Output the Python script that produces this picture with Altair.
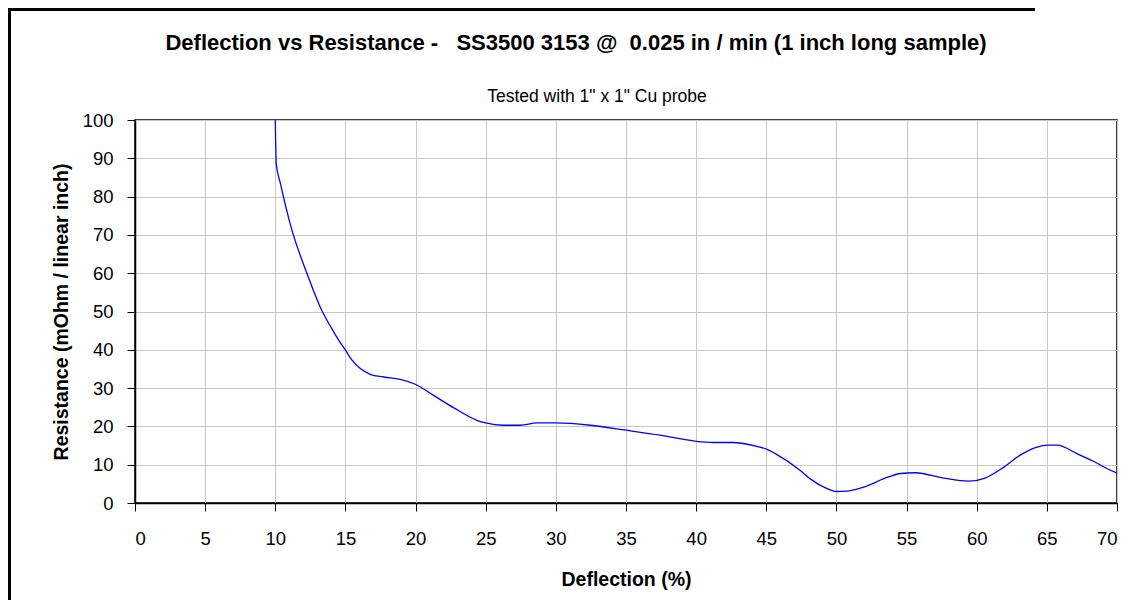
import altair as alt
import pandas as pd

# Deflection (%) and Resistance (mOhm / linear inch)
deflection = [9.98, 10.07, 10.36, 11.12, 12.26, 13.2, 14.16, 14.68, 15.0, 15.47,
              16.06, 16.77, 17.72, 18.9, 19.98, 21.28, 22.7, 24.37, 25.0, 26.2,
              27.46, 28.65, 29.98, 32.45, 35.0, 37.44, 40.0, 41.24, 42.55, 44.33,
              45.05, 45.64, 47.42, 48.13, 49.3, 50.0, 50.75, 51.82, 53.71, 54.55,
              55.62, 57.63, 59.42, 60.6, 61.91, 63.1, 64.29, 65.05, 65.72, 67.14,
              68.33, 69.28, 70.0]
resistance = [105, 88.5, 83.5, 72.1, 59.9, 51.2, 44.7, 41.6, 39.9, 37.3,
              35.1, 33.6, 32.9, 32.3, 31.0, 28.1, 24.9, 21.6, 20.9, 20.3,
              20.3, 20.9, 20.9, 20.3, 19.0, 17.7, 16.1, 15.8, 15.8, 14.8,
              14.0, 12.9, 8.5, 6.3, 3.8, 3.0, 3.1, 4.0, 6.8, 7.7,
              7.9, 6.5, 5.7, 6.5, 9.3, 12.5, 14.6, 15.1, 15.1, 12.9,
              10.9, 9.0, 7.8]
x_ticks = list(range(0, 71, 5))
y_ticks = list(range(0, 101, 10))

NB = "\u00a0"
title_text = ("Deflection vs Resistance -" + NB * 3 + "SS3500 3153 @" + NB * 2 +
              "0.025 in / min (1 inch long sample)")
subtitle_text = 'Tested with 1" x 1" Cu probe'
x_title = "Deflection (%)"
y_title = "Resistance (mOhm / linear inch)"

FONT = "Liberation Sans, Arial, sans-serif"

df = pd.DataFrame({"x": deflection, "y": resistance})

line = alt.Chart(df).mark_line(
    color="#0000ff", strokeWidth=1.3, interpolate="monotone", clip=True
).encode(
    x=alt.X("x:Q",
            scale=alt.Scale(domain=[0, 70], nice=False, zero=False),
            axis=alt.Axis(values=x_ticks, title=x_title, format="d",
                          labelFontSize=18.5, labelFont=FONT, labelColor="black",
                          labelPadding=18, tickSize=8, tickColor="black",
                          domainColor="black", domainWidth=1.5,
                          gridColor="#c6c6c6", gridWidth=1,
                          titleFont=FONT, titleFontSize=19.5, titleFontWeight="bold",
                          titleColor="black", titleX=491, titleY=76,
                          titleBaseline="middle", titleAlign="center")),
    y=alt.Y("y:Q",
            scale=alt.Scale(domain=[0, 100], nice=False),
            axis=alt.Axis(values=y_ticks, title=y_title, format="d",
                          labelFontSize=18.5, labelFont=FONT, labelColor="black",
                          labelPadding=14, tickSize=8, tickColor="black",
                          domainColor="black", domainWidth=1.5,
                          gridColor="#c6c6c6", gridWidth=1,
                          titleFont=FONT, titleFontSize=19.5, titleFontWeight="bold",
                          titleColor="black", titleX=-74, titleY=191.5,
                          titleAngle=270, titleBaseline="middle", titleAlign="center")),
)

title = alt.Chart(pd.DataFrame({"t": [title_text]})).mark_text(
    font=FONT, fontSize=22, fontWeight="bold", color="black",
    align="center", baseline="middle"
).encode(text="t:N", x=alt.value(441), y=alt.value(-77))

subtitle = alt.Chart(pd.DataFrame({"t": [subtitle_text]})).mark_text(
    font=FONT, fontSize=17.5, color="black", align="center", baseline="middle"
).encode(text="t:N", x=alt.value(462), y=alt.value(-23))

# outer frame of the picture (top and left edges)
frame_top = alt.Chart(pd.DataFrame({"a": [0]})).mark_rect(
    color="black"
).encode(x=alt.value(-127), x2=alt.value(900), y=alt.value(-112), y2=alt.value(-109))

frame_left = alt.Chart(pd.DataFrame({"b": [1]})).mark_rect(
    color="black"
).encode(x=alt.value(-127), x2=alt.value(-124), y=alt.value(-112), y2=alt.value(480))

chart = alt.layer(line, title, subtitle, frame_top, frame_left).properties(
    width=982, height=383,
    autosize=alt.AutoSizeParams(type="none"),
    padding={"left": 127, "top": 112, "right": 13, "bottom": 103},
    background="white",
).configure_view(stroke="black", strokeWidth=1.5)

chart.save("out.html", embed_options={"renderer": "svg", "actions": False})
